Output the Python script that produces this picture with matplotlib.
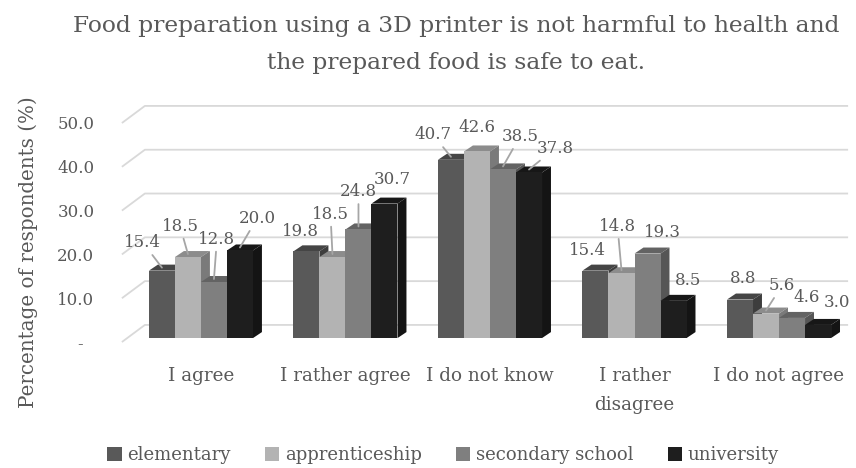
import matplotlib
matplotlib.use("Agg")
import matplotlib.pyplot as plt
from matplotlib.patches import Polygon, Patch

plt.rcParams['font.family'] = ['DejaVu Serif']

# survey answers (% of respondents) by education level
categories = ["I agree", "I rather agree", "I do not know", "I rather\ndisagree", "I do not agree"]
elementary = [15.4, 19.8, 40.7, 15.4, 8.8]
apprenticeship = [18.5, 18.5, 42.6, 14.8, 5.6]
secondary_school = [12.8, 24.8, 38.5, 19.3, 4.6]
university = [20.0, 30.7, 37.8, 8.5, 3.0]
series_names = ["elementary", "apprenticeship", "secondary school", "university"]
y_ticks = [0, 10, 20, 30, 40, 50]
y_tick_labels = ["-  ", "10.0", "20.0", "30.0", "40.0", "50.0"]

series = [elementary, apprenticeship, secondary_school, university]
colors = ["#595959", "#b3b3b3", "#7f7f7f", "#1e1e1e"]

# where each data label sits relative to the top of its bar (pixels) and
# whether a leader line is drawn to it
label_offsets = [
    [(-19, 28), (-6, 20), (-18, 25), (-8, 20), (3, 21)],
    [(-8, 31), (-2, 43), (0, 24), (-4, 47), (16, 28)],
    [(3, 43), (0, 38), (17, 33), (15, 21), (15, 20)],
    [(17, 32), (8, 24), (26, 24), (15, 20), (19, 22)],
]
leaders = [
    [True, False, True, False, False],
    [True, True, False, True, True],
    [True, True, True, False, False],
    [True, False, True, False, False],
]

TEXT = "#595959"
GRID = "#d9d9d9"
W = 0.18          # bar width
DX, DY = 0.062, 1.37   # bar depth
LIFT = 0.9        # bars stand in the middle of the floor depth
WALL_X, WALL_Y = 0.159, 3.9


def shade(hex_color, f):
    r, g, b = matplotlib.colors.to_rgb(hex_color)
    return (r * f, g * f, b * f)


fig = plt.figure(figsize=(8.56, 4.68), dpi=100)
ax = fig.add_axes([118 / 856, 1 - 345 / 468, 734 / 856, 245 / 468])
ax.set_xlim(-0.574, 4.505)
ax.set_ylim(-0.68, 55.25)

# floor edge and back wall gridlines
for v in y_ticks:
    ax.plot([-0.547, -0.547 + WALL_X, 4.478], [v, v + WALL_Y, v + WALL_Y],
            color=GRID, lw=1.3, zorder=0, solid_capstyle='butt')

for j, vals in enumerate(series):
    c = colors[j]
    for i, v in enumerate(vals):
        xc = i + (j - 1.5) * W
        x0 = xc - W / 2
        top = LIFT + v
        ax.add_patch(Polygon([(x0, top), (x0 + W, top), (x0 + W + DX, top + DY), (x0 + DX, top + DY)],
                             closed=True, facecolor=shade(c, 0.78), lw=0, zorder=2 + j))
        ax.add_patch(Polygon([(x0 + W, LIFT), (x0 + W + DX, LIFT + DY), (x0 + W + DX, top + DY), (x0 + W, top)],
                             closed=True, facecolor=shade(c, 0.68), lw=0, zorder=2 + j))
        ax.bar(xc, v, W, bottom=LIFT, color=c, lw=0, zorder=2.5 + j)

        ox, oy = label_offsets[j][i]
        arrow = dict(arrowstyle='-', color="#a6a6a6", lw=1.3, shrinkA=1, shrinkB=0) if leaders[j][i] else None
        ax.annotate(f"{v:.1f}", xy=(xc, top + DY / 2), xytext=(ox, oy - 3), textcoords='offset pixels',
                    ha='center', va='center', fontsize=12, color=TEXT, arrowprops=arrow, zorder=10)

ax.set_xticks(range(len(categories)))
ax.set_xticklabels(categories, fontsize=13.2, color=TEXT, linespacing=1.75, va='top')
ax.set_yticks(y_ticks)
ax.set_yticklabels(y_tick_labels, fontsize=12, color=TEXT)
ax.tick_params(axis='x', length=0, pad=16)
ax.tick_params(axis='y', length=0, pad=17)
for s in ax.spines.values():
    s.set_visible(False)

fig.text(456 / 856, 1 - 44.5 / 468,
         "Food preparation using a 3D printer is not harmful to health and\nthe prepared food is safe to eat.",
         ha='center', va='center', fontsize=16.8, color=TEXT, linespacing=1.85)
fig.text(28 / 856, 1 - 252 / 468, "Percentage of respondents (%)", rotation=90,
         ha='center', va='center', fontsize=14.3, color=TEXT)

handles = [Patch(facecolor=c, lw=0) for c in colors]
fig.legend(handles, series_names, loc='center', bbox_to_anchor=(443 / 856, 1 - 455 / 468),
           ncol=4, frameon=False, handlelength=0.8, handleheight=0.8, handletextpad=0.3,
           columnspacing=1.9, fontsize=13, labelcolor=TEXT)

fig.savefig("out.png", dpi=100)
